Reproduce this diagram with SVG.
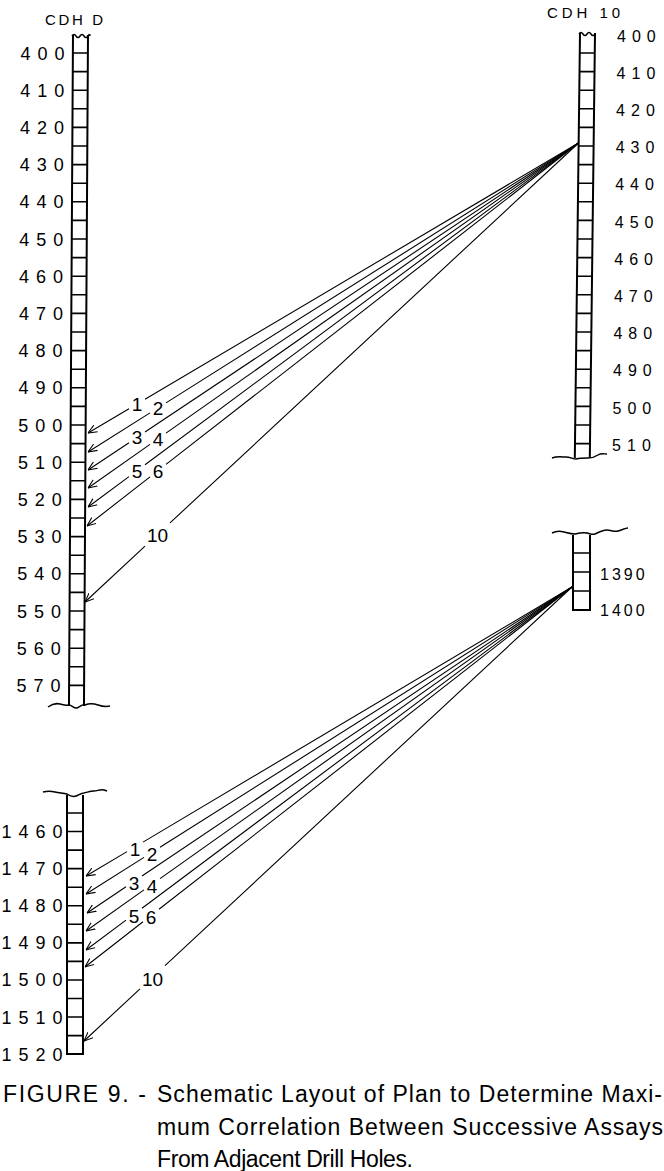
<svg xmlns="http://www.w3.org/2000/svg" width="664" height="1171" viewBox="0 0 664 1171">
<style>
.col{fill:none;stroke:#000;stroke-width:2}
.tick{fill:none;stroke:#000;stroke-width:1.6}
.wave{fill:none;stroke:#000;stroke-width:1.5}
.conn{fill:none;stroke:#000;stroke-width:1.1;marker-end:url(#arr)}
.numL{font-family:"Liberation Sans",Arial,sans-serif;font-size:18px;letter-spacing:7px;fill:#000}
.numR{font-family:"Liberation Sans",Arial,sans-serif;font-size:16px;letter-spacing:6px;fill:#000}
.numR2{font-family:"Liberation Sans",Arial,sans-serif;font-size:16px;letter-spacing:3px;fill:#000}
.lab{font-family:"Liberation Sans",Arial,sans-serif;font-size:19px;fill:#000;text-anchor:middle}
.head{font-family:"Liberation Sans",Arial,sans-serif;font-size:15px;fill:#000}
.cap{font-family:"Liberation Sans",Arial,sans-serif;font-size:23px;fill:#000}
</style>
<defs>
<marker id="arr" viewBox="0 0 10 10" refX="10" refY="5" markerWidth="9" markerHeight="9" markerUnits="userSpaceOnUse" orient="auto">
<path d="M0,0.8 L10,5 L0,9.2" fill="none" stroke="#000" stroke-width="1.2"/>
</marker>
</defs>

<g id="cdh-d-upper">
<text class="head" x="45" y="25" textLength="58">CDH D</text>
<g transform="matrix(1 0 -0.006 1 0 0)">
<path class="col" d="M73.2,35V706M88.2,35V706"/>
<path class="tick" d="M73.2,53h15M73.2,71.6h15M73.2,90.2h15M73.2,108.8h15M73.2,127.4h15M73.2,146h15M73.2,164.6h15M73.2,183.2h15M73.2,201.8h15M73.2,220.4h15M73.2,239h15M73.2,257.6h15M73.2,276.2h15M73.2,294.8h15M73.2,313.4h15M73.2,332h15M73.2,350.6h15M73.2,369.2h15M73.2,387.8h15M73.2,406.4h15M73.2,425h15M73.2,443.6h15M73.2,462.2h15M73.2,480.8h15M73.2,499.4h15M73.2,518h15M73.2,536.6h15M73.2,555.2h15M73.2,573.8h15M73.2,592.4h15M73.2,611h15M73.2,629.6h15M73.2,648.2h15M73.2,666.8h15M73.2,685.4h15"/>
</g>
<path class="wave" d="M72,36 q2,-3 4,0 t4,0 t4,0 t4,0 t2,0"/>
<path class="wave" d="M48,707 C52,704 56,703 60,704 S66,706 69,705 C72,705 74,709 77,708 S82,704 85,705 C90,703 95,704 98,705 S106,707 110,706"/>
<text class="numL" x="20.5" y="59.5">400</text>
<text class="numL" x="20.3" y="96.7">410</text>
<text class="numL" x="20.0" y="133.9">420</text>
<text class="numL" x="19.8" y="171.1">430</text>
<text class="numL" x="19.6" y="208.3">440</text>
<text class="numL" x="19.3" y="245.5">450</text>
<text class="numL" x="19.1" y="282.7">460</text>
<text class="numL" x="18.9" y="319.9">470</text>
<text class="numL" x="18.6" y="357.1">480</text>
<text class="numL" x="18.4" y="394.3">490</text>
<text class="numL" x="18.2" y="431.5">500</text>
<text class="numL" x="17.9" y="468.7">510</text>
<text class="numL" x="17.7" y="505.9">520</text>
<text class="numL" x="17.5" y="543.1">530</text>
<text class="numL" x="17.2" y="580.3">540</text>
<text class="numL" x="17.0" y="617.5">550</text>
<text class="numL" x="16.8" y="654.7">560</text>
<text class="numL" x="16.5" y="691.9">570</text>
</g>

<g id="cdh-10-upper">
<text class="head" x="547" y="18" textLength="73">CDH 10</text>
<g transform="matrix(1 0 -0.0122 1 0 0)">
<path class="col" d="M580.4,33V458M595.4,33V458"/>
<path class="tick" d="M580.4,53h15M580.4,71.6h15M580.4,90.2h15M580.4,108.8h15M580.4,127.4h15M580.4,146h15M580.4,164.6h15M580.4,183.2h15M580.4,201.8h15M580.4,220.4h15M580.4,239h15M580.4,257.6h15M580.4,276.2h15M580.4,294.8h15M580.4,313.4h15M580.4,332h15M580.4,350.6h15M580.4,369.2h15M580.4,387.8h15M580.4,406.4h15M580.4,425h15M580.4,443.6h15"/>
</g>
<path class="wave" d="M579,34 q2,-3 4,0 t4,0 t4,0 t4,0"/>
<path class="wave" d="M552,458 C557,456 562,457 566,457 S573,459 576,459 C580,458 584,458 588,458 S595,457 598,455 S604,454 607,454"/>
<text class="numR" x="617.0" y="41.5">400</text>
<text class="numR" x="616.6" y="78.7">410</text>
<text class="numR" x="616.1" y="115.9">420</text>
<text class="numR" x="615.7" y="153.1">430</text>
<text class="numR" x="615.2" y="190.3">440</text>
<text class="numR" x="614.8" y="227.5">450</text>
<text class="numR" x="614.3" y="264.7">460</text>
<text class="numR" x="613.9" y="301.9">470</text>
<text class="numR" x="613.4" y="339.1">480</text>
<text class="numR" x="613.0" y="376.3">490</text>
<text class="numR" x="612.5" y="413.5">500</text>
<text class="numR" x="612.1" y="450.7">510</text>
</g>

<g id="cdh-10-lower">
<path class="col" d="M573,535V610H590V535"/>
<path class="tick" d="M573,553h17M573,572h17M573,591h17"/>
<path class="wave" d="M552,533 C556,531 560,531 564,532 S571,534 575,534 C579,533 583,532 587,533 S592,535 595,534 C599,532 603,530 607,530 S614,532 618,531 S625,528 628,528"/>
<text class="numR2" x="600" y="579.5">1390</text>
<text class="numR2" x="600" y="615.5">1400</text>
</g>

<g id="cdh-d-lower">
<path class="col" d="M67,795V1054H83V795"/>
<path class="tick" d="M67,813h16M67,831.55h16M67,850.1h16M67,868.65h16M67,887.2h16M67,905.75h16M67,924.3h16M67,942.85h16M67,961.4h16M67,979.95h16M67,998.5h16M67,1017.05h16M67,1035.6h16"/>
<path class="wave" d="M43,792 C47,791 51,791 55,792 S63,793 67,794 C70,796 73,797 76,796 S81,793 84,793 C88,792 91,791 94,791 S101,789 104,790 L107,791"/>
<text class="numL" x="1.5" y="838">1460</text>
<text class="numL" x="1.5" y="875.1">1470</text>
<text class="numL" x="1.5" y="912.2">1480</text>
<text class="numL" x="1.5" y="949.3">1490</text>
<text class="numL" x="1.5" y="986.4">1500</text>
<text class="numL" x="1.5" y="1023.5">1510</text>
<text class="numL" x="1.5" y="1060.6">1520</text>
</g>

<g id="connectors">
<path class="conn" d="M578.5,143 L145,399.3 M129,408.8 L88,433"/>
<path class="conn" d="M578.5,143 L166,402.9 M150,412.9 L88,452"/>
<path class="conn" d="M578.5,143 L145,432 M129,442.7 L88,470"/>
<path class="conn" d="M578.5,143 L166,433.1 M150,444.4 L88,488"/>
<path class="conn" d="M578.5,143 L145,464.7 M129,476.6 L88,507"/>
<path class="conn" d="M578.5,143 L166,464.4 M150,476.9 L87,526"/>
<path class="conn" d="M578.5,143 L170,522.9 M145,546.2 L85,602"/>
<path class="conn" d="M572,587 L143,842.1 M127,851.6 L86,876"/>
<path class="conn" d="M572,587 L160,847.3 M144,857.4 L86,894"/>
<path class="conn" d="M572,587 L142,876 M126,886.8 L87,913"/>
<path class="conn" d="M572,587 L160,878.6 M144,889.9 L86,931"/>
<path class="conn" d="M572,587 L142,908.2 M126,920.1 L86,950"/>
<path class="conn" d="M572,587 L159,909.3 M143,921.7 L85,967"/>
<path class="conn" d="M572,587 L165,965.6 M140,988.9 L84,1041"/>
</g>

<g id="connector-labels">
<text class="lab" x="137" y="411">1</text>
<text class="lab" x="158" y="414.5">2</text>
<text class="lab" x="137" y="444">3</text>
<text class="lab" x="158" y="445.5">4</text>
<text class="lab" x="137" y="477.5">5</text>
<text class="lab" x="158" y="477.5">6</text>
<text class="lab" x="157.5" y="541.5">10</text>
<text class="lab" x="135" y="855.5">1</text>
<text class="lab" x="152" y="860.5">2</text>
<text class="lab" x="134" y="889.5">3</text>
<text class="lab" x="152" y="892.5">4</text>
<text class="lab" x="134" y="922.5">5</text>
<text class="lab" x="151" y="923.5">6</text>
<text class="lab" x="152.5" y="985.5">10</text>
</g>

<g id="caption">
<text class="cap" x="3" y="1102" textLength="143" lengthAdjust="spacing">FIGURE 9. -</text>
<text class="cap" x="157" y="1102" textLength="505" lengthAdjust="spacing">Schematic Layout of Plan to Determine Maxi-</text>
<text class="cap" x="157" y="1135" textLength="506" lengthAdjust="spacing">mum Correlation Between Successive Assays</text>
<text class="cap" x="157" y="1167" textLength="256" lengthAdjust="spacing">From Adjacent Drill Holes.</text>
</g>
</svg>
